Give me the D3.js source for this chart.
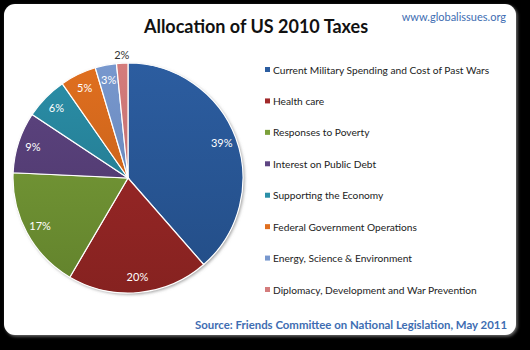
<!DOCTYPE html>
<html><head><meta charset="utf-8">
<script src="https://d3js.org/d3.v7.min.js"></script>
<style>body{margin:0;background:#000;}svg{display:block;}</style>
</head><body>
<svg id="chart"></svg>
<script>
// chart data
var categories=['Current Military Spending and Cost of Past Wars','Health care',
  'Responses to Poverty','Interest on Public Debt','Supporting the Economy',
  'Federal Government Operations','Energy, Science & Environment',
  'Diplomacy, Development and War Prevention'];
var shares=[38.6,19.9,17.3,8.6,6.0,5.1,3.0,1.6];
var colors=['#2c5da0','#a1292a','#7ba03a','#5e4582','#2b8fa8','#e06f1f','#7898ce','#d47c7c'];
var darks=['#234d86','#862220','#62822c','#4a3567','#1f6f84','#b95a18','#5f7cae','#b56565'];

var W=530,H=350,font='Lato, "Open Sans", sans-serif';
var svg=d3.select('#chart').attr('width',W).attr('height',H);
var defs=svg.append('defs');
var sh=defs.append('filter').attr('id','sh').attr('x','-10%').attr('y','-10%')
   .attr('width','130%').attr('height','130%');
sh.append('feDropShadow').attr('dx',1.5).attr('dy',1.5).attr('stdDeviation',1.5)
  .attr('flood-color','#888').attr('flood-opacity',0.8);

svg.append('rect').attr('x',0).attr('y',0).attr('width',W).attr('height',H).attr('fill','#000');
svg.append('rect').attr('x',4).attr('y',4).attr('width',512).attr('height',331)
   .attr('rx',11).attr('fill','#fff').attr('filter','url(#sh)');

svg.append('text').attr('x',256).attr('y',33).attr('text-anchor','middle')
   .attr('font-family',font).attr('font-weight','bold').attr('font-size',18)
   .attr('fill','#111').text('Allocation of US 2010 Taxes');
svg.append('text').attr('x',506).attr('y',21).attr('text-anchor','end')
   .attr('font-family',font).attr('font-size',11).attr('fill','#3e6db2')
   .text('www.globalissues.org');
svg.append('text').attr('x',507).attr('y',329).attr('text-anchor','end')
   .attr('font-family',font).attr('font-weight','bold').attr('font-size',11.4)
   .attr('fill','#3e6db2').text('Source: Friends Committee on National Legislation, May 2011');

// pie
var cx=128,cy=178,r=115;
var g=svg.append('g').attr('transform','translate('+cx+','+cy+')');
colors.forEach(function(c,i){
  var lg=defs.append('linearGradient').attr('id','gr'+i).attr('gradientUnits','userSpaceOnUse')
    .attr('x1',0).attr('y1',-r).attr('x2',0).attr('y2',r);
  lg.append('stop').attr('offset','0%').attr('stop-color',c);
  lg.append('stop').attr('offset','100%').attr('stop-color',darks[i]);
});
var pie=d3.pie().sort(null).value(function(d){return d;});
var arcs=pie(shares);
var arc=d3.arc().innerRadius(0).outerRadius(r);
g.append('circle').attr('r',r).attr('fill','#fff').attr('filter','url(#sh)');
g.selectAll('path.s').data(arcs).enter().append('path').attr('class','s')
 .attr('d',arc).attr('fill',function(d,i){return 'url(#gr'+i+')';})
 .attr('stroke','#fff').attr('stroke-width',1.2);
var total=d3.sum(shares);
var fmt=function(v){return Math.round(v/total*100)+'%';};
var small=function(d){return d.endAngle-d.startAngle<0.12;};
var lab=d3.arc().innerRadius(r*0.87).outerRadius(r*0.87);
var outLab=d3.arc().innerRadius(r*1.07).outerRadius(r*1.07);
g.selectAll('text.l').data(arcs).enter().append('text').attr('class','l')
 .attr('transform',function(d){
   var p=(small(d)?outLab:lab).centroid(d);
   return 'translate('+p[0]+','+p[1]+')';})
 .attr('text-anchor','middle').attr('dy','0.35em')
 .attr('font-family',font).attr('font-size',11)
 .attr('fill',function(d){return small(d)?'#333':'#fff';})
 .text(function(d){return fmt(d.value);});

// legend
var ly=d3.scalePoint().domain(categories).range([70,290]);
var lg=svg.append('g');
var row=lg.selectAll('g').data(categories).enter().append('g')
  .attr('transform',function(d){return 'translate(265,'+ly(d)+')';});
row.append('rect').attr('x',0).attr('y',-3).attr('width',5).attr('height',5)
  .attr('fill',function(d,i){return colors[i];});
row.append('text').attr('x',8).attr('y',0).attr('dy','0.35em')
  .attr('font-family',font).attr('font-size',10.2).attr('fill','#222')
  .text(function(d){return d;});
</script>
</body></html>
